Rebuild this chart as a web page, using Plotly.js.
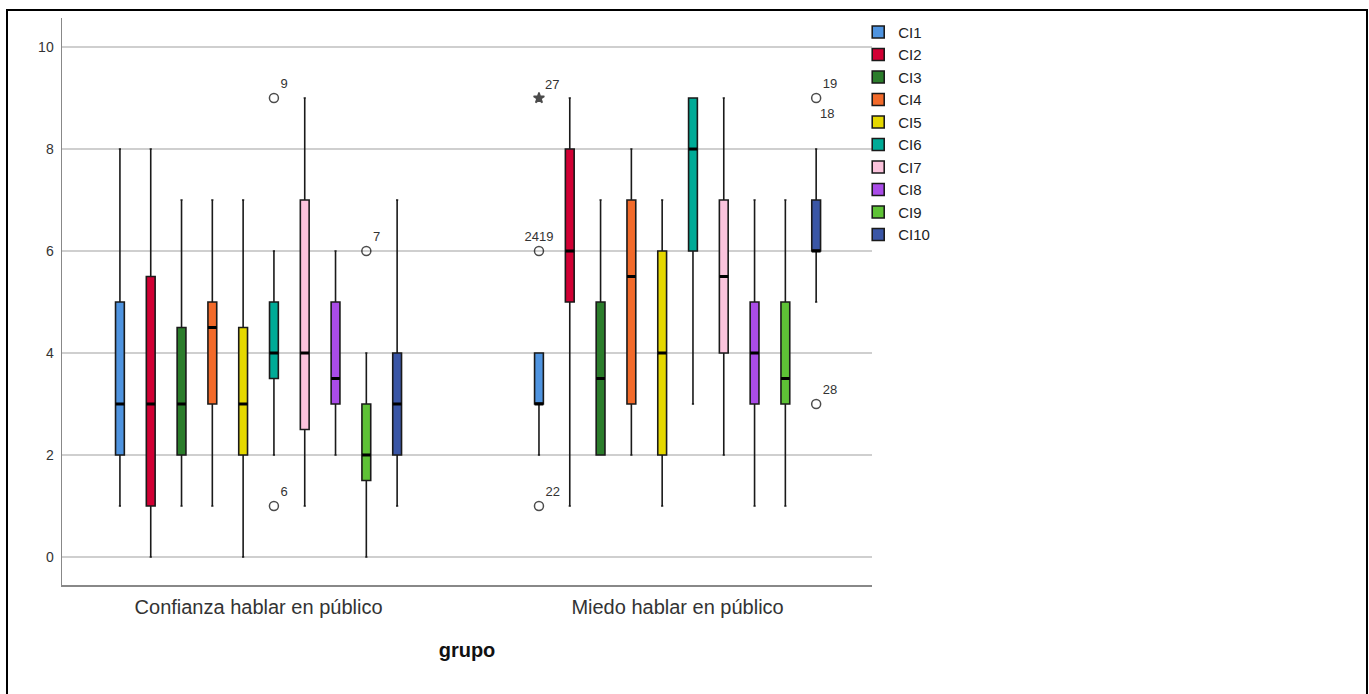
<!DOCTYPE html>
<html>
<head>
<meta charset="utf-8">
<script src="https://cdn.plot.ly/plotly-3.0.1.min.js"></script>
<style>
  html, body { margin: 0; padding: 0; background: #fff; }
  #chart { width: 1369px; height: 694px; }
  #frame { position: absolute; left: 6px; top: 9px; width: 1358px; height: 700px; border: 2px solid #000; pointer-events: none; }
</style>
</head>
<body>
<div id="chart"></div>
<div id="frame"></div>
<script>
// ---- data ----
const groups = ['Confianza hablar en público', 'Miedo hablar en público'];
const series = ['CI1', 'CI2', 'CI3', 'CI4', 'CI5', 'CI6', 'CI7', 'CI8', 'CI9', 'CI10'];
const colors = ['#4f94e0', '#d10034', '#2b7d2b', '#f26a2a', '#e5d800', '#00ab97', '#fbc3dc', '#aa4ce8', '#5ec236', '#3a56a6'];

// Group 1: Confianza hablar en público
const lower1  = [1, 0, 1, 1, 0, 2, 1, 2, 0, 1];
const q1_1    = [2, 1, 2, 3, 2, 3.5, 2.5, 3, 1.5, 2];
const median1 = [3, 3, 3, 4.5, 3, 4, 4, 3.5, 2, 3];
const q3_1    = [5, 5.5, 4.5, 5, 4.5, 5, 7, 5, 3, 4];
const upper1  = [8, 8, 7, 7, 7, 6, 9, 6, 4, 7];

// Group 2: Miedo hablar en público
const lower2  = [2, 1, 2, 2, 1, 3, 2, 1, 1, 5];
const q1_2    = [3, 5, 2, 3, 2, 6, 4, 3, 3, 6];
const median2 = [3, 6, 3.5, 5.5, 4, 8, 5.5, 4, 3.5, 6];
const q3_2    = [4, 8, 5, 7, 6, 9, 7, 5, 5, 7];
const upper2  = [4, 9, 7, 8, 7, 9, 9, 7, 7, 8];

// Outliers (points)
const outGroup   = [0, 0, 0, 1, 1, 1, 1, 1];
const outSeries  = ['CI6', 'CI6', 'CI9', 'CI1', 'CI1', 'CI1', 'CI10', 'CI10'];
const outValue   = [9, 1, 6, 9, 6, 1, 9, 3];
const outLabel   = ['9', '6', '7', '27', '2419', '22', '19', '28'];
const outExtreme = [false, false, false, true, false, false, false, false];
const outLabelPos = ['top right', 'top right', 'top right', 'top right', 'top center', 'top right', 'top right', 'top right'];
// Extra case labels sharing an outlier point
const extraGroup  = [1];
const extraSeries = ['CI10'];
const extraValue  = [9];
const extraLabel  = ['18'];

// ---- layout helpers ----
const spacing = 0.0735;
const boxW = 0.021;
const offset = i => (i - (series.length - 1) / 2) * spacing;
const labelFont = { family: 'Arial, Liberation Sans, sans-serif', size: 13, color: '#333' };

const traces = [];
const medX = [], medY = [];
series.forEach((name, i) => {
  const xs = [0 + offset(i), 1 + offset(i)];
  traces.push({
    type: 'box',
    name: name,
    legendgroup: name,
    x: xs,
    q1: [q1_1[i], q1_2[i]],
    median: [median1[i], median2[i]],
    q3: [q3_1[i], q3_2[i]],
    lowerfence: [lower1[i], lower2[i]],
    upperfence: [upper1[i], upper2[i]],
    width: boxW,
    whiskerwidth: 0.25,
    fillcolor: colors[i],
    line: { color: '#1a1a1a', width: 1.6 },
    boxpoints: false,
    hoverinfo: 'skip'
  });
  [median1[i], median2[i]].forEach((m, g) => {
    medX.push(xs[g] - boxW / 2, xs[g] + boxW / 2, null);
    medY.push(m, m, null);
  });
});

traces.push({
  type: 'scatter', mode: 'lines', x: medX, y: medY,
  line: { color: '#000', width: 3 }, showlegend: false, hoverinfo: 'skip'
});

const ox = outSeries.map((s, k) => outGroup[k] + offset(series.indexOf(s)));
traces.push({
  type: 'scatter', mode: 'markers+text',
  x: ox, y: outValue, text: outLabel, textposition: outLabelPos,
  textfont: labelFont,
  marker: {
    symbol: outExtreme.map(e => e ? 'star' : 'circle-open'),
    size: outExtreme.map(e => e ? 8 : 9),
    color: '#000',
    line: { color: '#000', width: 1.5 }
  },
  showlegend: false, hoverinfo: 'skip', cliponaxis: false
});

const annotations = extraSeries.map((s, k) => ({
  x: extraGroup[k] + offset(series.indexOf(s)), y: extraValue[k],
  xref: 'x', yref: 'y', text: extraLabel[k], showarrow: false,
  xanchor: 'left', yanchor: 'middle', xshift: 2, yshift: -15,
  font: labelFont
}));

const layout = {
  width: 1369, height: 694,
  margin: { l: 62, r: 497, t: 18, b: 109 },
  paper_bgcolor: '#fff', plot_bgcolor: '#fff',
  font: { family: 'Arial, Liberation Sans, sans-serif', color: '#222' },
  boxmode: 'overlay',
  showlegend: true,
  legend: {
    x: 0.983, xanchor: 'left', y: 1.004, yanchor: 'top',
    font: { size: 15, color: '#222' },
    bgcolor: 'rgba(0,0,0,0)',
    tracegroupgap: 0
  },
  annotations: annotations,
  xaxis: {
    range: [-0.469, 1.464],
    tickvals: [0, 1], ticktext: groups,
    tickfont: { size: 20, color: '#333' },
    ticks: 'outside', ticklen: 3, tickcolor: 'rgba(0,0,0,0)',
    showgrid: false, zeroline: false,
    showline: true, linecolor: '#888', linewidth: 1.5,
    title: { text: '<b>grupo</b>', font: { size: 20, color: '#111' }, standoff: 26 }
  },
  yaxis: {
    range: [-0.55, 10.57],
    tickvals: [0, 2, 4, 6, 8, 10],
    tickfont: { size: 14, color: '#333' },
    ticks: 'outside', ticklen: 4, tickcolor: 'rgba(0,0,0,0)',
    showgrid: true, gridcolor: '#cfcfcf', gridwidth: 1.5,
    zeroline: false,
    showline: true, linecolor: '#888', linewidth: 1.5
  }
};

Plotly.newPlot('chart', traces, layout, { displayModeBar: false, staticPlot: true });
</script>
</body>
</html>
